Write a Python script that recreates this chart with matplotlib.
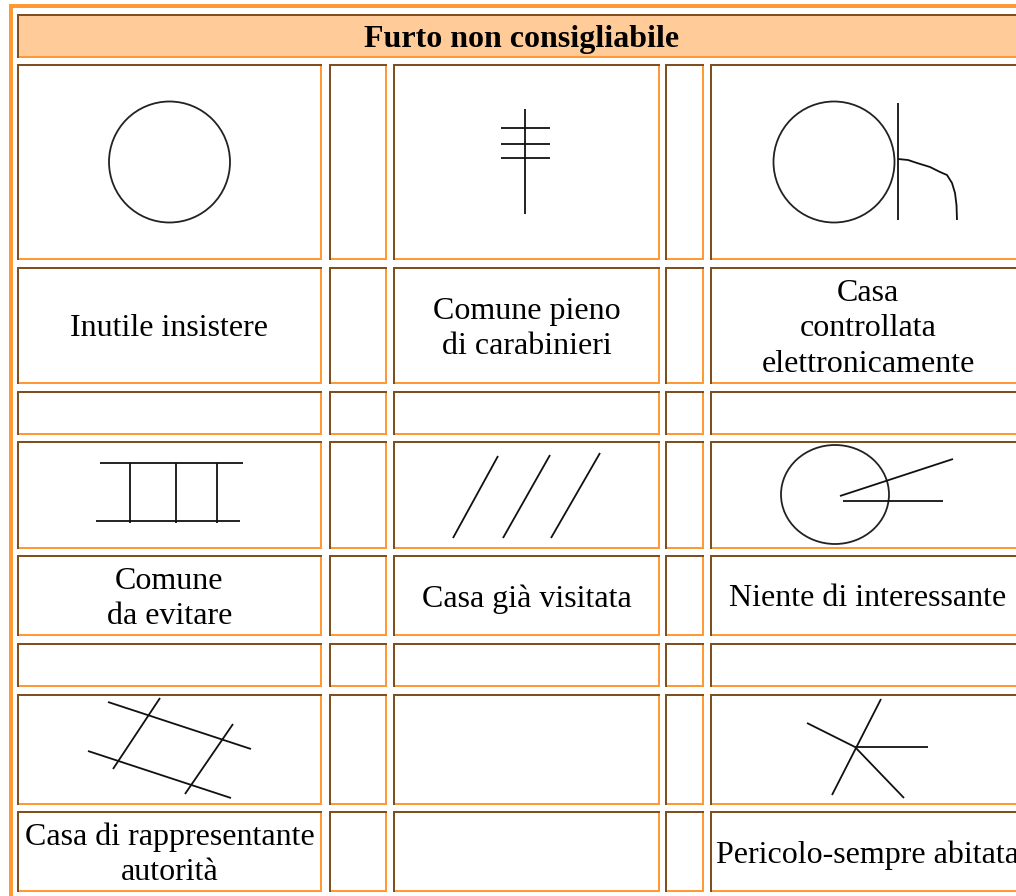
import matplotlib
matplotlib.use('Agg')
import matplotlib.pyplot as plt
from matplotlib.patches import Rectangle, Ellipse

BROWN = '#7f4f1f'
ORANGE = '#ff9933'
HEADER = '#ffcc99'

# bordi delle colonne e delle righe della tabella, in pixel
col_left = [17, 329, 393, 665, 710]
col_right = [322, 387, 660, 704, 1026]
row_top = [64, 267, 391, 441, 555, 643, 694, 811]
row_bottom = [260, 384, 435, 549, 636, 687, 805, 892]

title = 'Furto non consigliabile'

# testi: (colonna, riga, testo)
labels = [
    (0, 1, 'Inutile insistere'),
    (2, 1, 'Comune pieno\ndi carabinieri'),
    (4, 1, 'Casa\ncontrollata\nelettronicamente'),
    (0, 4, 'Comune\nda evitare'),
    (2, 4, 'Casa già visitata'),
    (4, 4, 'Niente di interessante'),
    (0, 7, 'Casa di rappresentante\nautorità'),
    (4, 7, 'Pericolo-sempre abitata'),
]

# cerchi: (x, y, larghezza, altezza)
circles = [(169.5, 162, 121, 121), (834, 162, 121, 121), (835, 494.5, 108, 99)]

# segni: ogni voce è una spezzata (xs, ys)
strokes = [
    ([525, 525], [109, 214]),
    ([501, 550], [128, 128]),
    ([501, 550], [144, 144]),
    ([501, 550], [158, 158]),
    ([897.5, 897.5], [103, 220]),
    ([898, 908, 917, 930, 940, 947, 952, 955, 956.5, 957],
     [159, 160, 163, 167, 172, 175, 183, 193, 205, 220]),
    ([100, 243], [463, 463]),
    ([96, 240], [521, 521]),
    ([130, 130], [463, 523]),
    ([176, 176], [463, 523]),
    ([217, 217], [463, 523]),
    ([498, 453], [456, 538]),
    ([550, 503], [455, 538]),
    ([600, 551], [453, 538]),
    ([840, 953], [496, 459]),
    ([843, 943], [501, 501]),
    ([108, 251], [702, 749]),
    ([88, 231], [751, 798]),
    ([160, 113], [698, 769]),
    ([233, 185], [724, 794]),
    ([881, 832], [699, 795]),
    ([807, 855, 904], [723, 747, 798]),
    ([855, 928], [747, 747]),
]


def cell(ax, x0, y0, x1, y1, face='white'):
    ax.add_patch(Rectangle((x0, y0), x1 - x0, y1 - y0, fc=face, ec='none', zorder=1))
    # sopra e sinistra marrone, sotto e destra arancione
    ax.add_patch(Rectangle((x0, y1 - 2), x1 - x0, 2, fc=ORANGE, ec='none', zorder=2))
    ax.add_patch(Rectangle((x1 - 2, y0), 2, y1 - y0, fc=ORANGE, ec='none', zorder=2))
    ax.add_patch(Rectangle((x0, y0), x1 - x0, 2, fc=BROWN, ec='none', zorder=3))
    ax.add_patch(Rectangle((x0, y0), 2, y1 - y0, fc=BROWN, ec='none', zorder=3))


fig = plt.figure(figsize=(10.16, 8.96), dpi=100)
ax = fig.add_axes([0, 0, 1, 1])
ax.set_xlim(0, 1016)
ax.set_ylim(896, 0)
ax.axis('off')

# cornice esterna
ax.add_patch(Rectangle((9, 4), 1100, 4, fc=ORANGE, ec='none'))
ax.add_patch(Rectangle((9, 4), 4, 892, fc=ORANGE, ec='none'))

cell(ax, 17, 14, 1026, 58, HEADER)
ax.text(521.5, 39, title, ha='center', va='center', fontsize=23,
        family='Liberation Serif', weight='bold', zorder=5)

for x0, x1 in zip(col_left, col_right):
    for y0, y1 in zip(row_top, row_bottom):
        cell(ax, x0, y0, x1, y1)

for c, r, s in labels:
    xc = (col_left[c] + col_right[c]) / 2
    yc = (row_top[r] + row_bottom[r]) / 2
    ax.text(xc, yc + 3.5, s, ha='center', va='center', fontsize=23, color='black',
            family='Liberation Serif', linespacing=1.29, zorder=5)

for x, y, w, h in circles:
    ax.add_patch(Ellipse((x, y), w, h, fc='none', ec='#222222', lw=1.3, zorder=4))

for xs, ys in strokes:
    ax.plot(xs, ys, color='#111111', lw=1.3, solid_capstyle='butt', zorder=4)

fig.savefig('out.png', dpi=100)
